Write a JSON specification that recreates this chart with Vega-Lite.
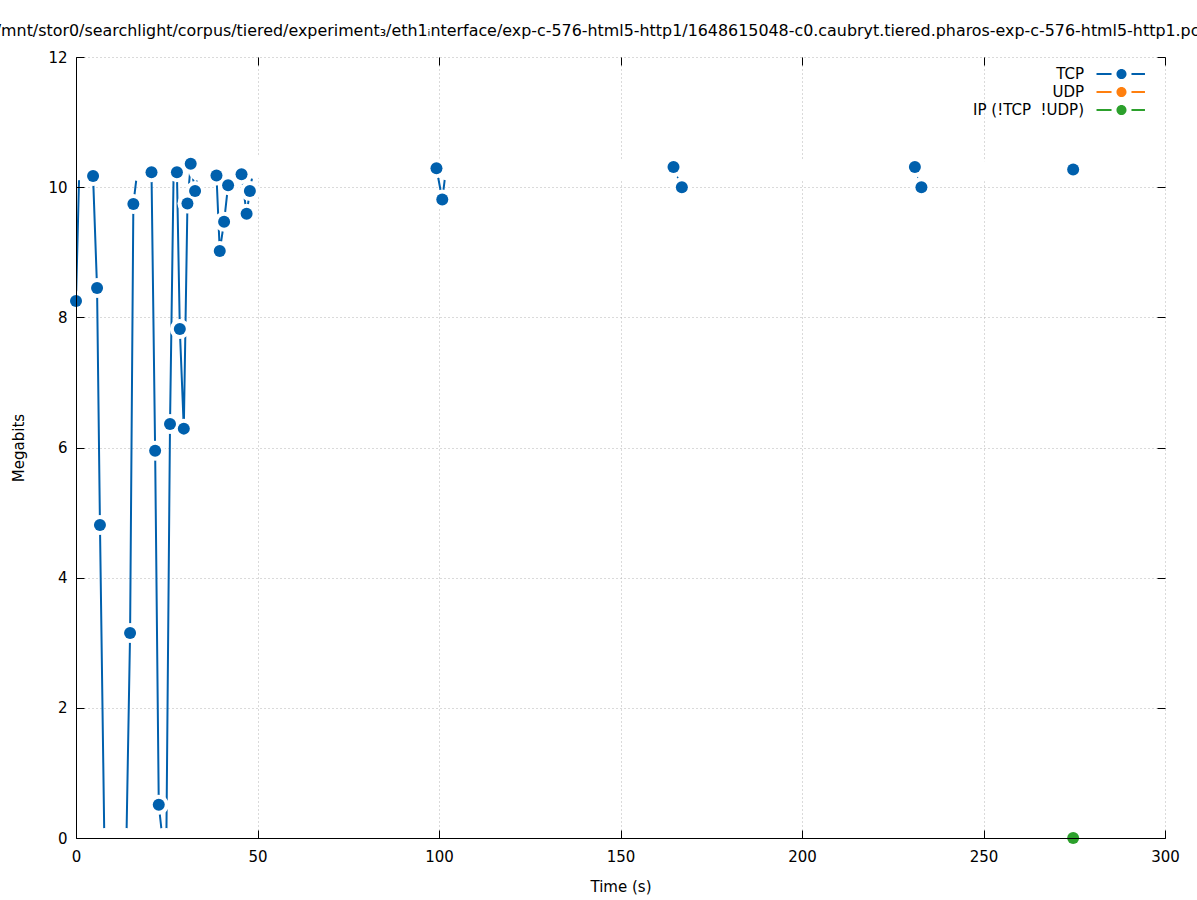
{
"$schema": "https://vega.github.io/schema/vega-lite/v6.json",
"width": 1089, "height": 781,
"autosize": {"type": "none"},
"padding": {"left": 76, "top": 57, "right": 32, "bottom": 62},
"background": "white",
"config": {"font": "DejaVu Sans", "view": {"stroke": null}},
"title": {"text": "/mnt/stor0/searchlight/corpus/tiered/experiment₃/eth1ᵢnterface/exp-c-576-html5-http1/1648615048-c0.caubryt.tiered.pharos-exp-c-576-html5-http1.pcap", "fontSize": 15.9, "fontWeight": "normal", "font": "DejaVu Sans", "color": "black", "anchor": "middle", "dx": -13, "offset": 11, "frame": "group"},
"data": {"values": [
{"series":"TCP","time":0.0,"mbit":8.25},{"series":"TCP","time":0.9,"mbit":10.26},{"series":"TCP","time":1.8,"mbit":10.27},{"series":"TCP","time":2.7,"mbit":10.25},{"series":"TCP","time":3.7,"mbit":10.27},{"series":"TCP","time":4.7,"mbit":10.17},{"series":"TCP","time":5.8,"mbit":8.45},{"series":"TCP","time":6.6,"mbit":4.81},{"series":"TCP","time":7.8,"mbit":0},{"series":"TCP","time":8.8,"mbit":0},{"series":"TCP","time":9.8,"mbit":0},{"series":"TCP","time":10.8,"mbit":0},{"series":"TCP","time":11.8,"mbit":0},{"series":"TCP","time":12.9,"mbit":0},{"series":"TCP","time":13.9,"mbit":0},{"series":"TCP","time":14.9,"mbit":3.15},{"series":"TCP","time":15.8,"mbit":9.74},{"series":"TCP","time":16.9,"mbit":10.25},{"series":"TCP","time":17.9,"mbit":10.27},{"series":"TCP","time":18.9,"mbit":10.25},{"series":"TCP","time":19.8,"mbit":10.26},{"series":"TCP","time":20.8,"mbit":10.23},{"series":"TCP","time":21.8,"mbit":5.95},{"series":"TCP","time":22.8,"mbit":0.51},{"series":"TCP","time":23.8,"mbit":0},{"series":"TCP","time":24.9,"mbit":0},{"series":"TCP","time":25.9,"mbit":6.36},{"series":"TCP","time":26.9,"mbit":10.26},{"series":"TCP","time":27.8,"mbit":10.23},{"series":"TCP","time":28.6,"mbit":7.82},{"series":"TCP","time":29.7,"mbit":6.29},{"series":"TCP","time":30.7,"mbit":9.75},{"series":"TCP","time":31.6,"mbit":10.36},{"series":"TCP","time":32.8,"mbit":9.94},{"series":"TCP","time":33.8,"mbit":10.25},{"series":"TCP","time":34.8,"mbit":10.27},{"series":"TCP","time":35.8,"mbit":10.26},{"series":"TCP","time":36.8,"mbit":10.28},{"series":"TCP","time":37.8,"mbit":10.27},{"series":"TCP","time":38.7,"mbit":10.18},{"series":"TCP","time":39.6,"mbit":9.02},{"series":"TCP","time":40.8,"mbit":9.47},{"series":"TCP","time":41.9,"mbit":10.03},{"series":"TCP","time":42.8,"mbit":10.32},{"series":"TCP","time":43.8,"mbit":10.27},{"series":"TCP","time":44.7,"mbit":10.26},{"series":"TCP","time":45.6,"mbit":10.2},{"series":"TCP","time":47.0,"mbit":9.59},{"series":"TCP","time":47.9,"mbit":9.94},{"series":"TCP","time":48.9,"mbit":10.28},{"series":"TCP","time":49.8,"mbit":10.3},{"series":"TCP","time":50.6,"mbit":10.34},{"series":"TCP","time":51.6,"mbit":10.28},{"series":"TCP","time":52.5,"mbit":10.25},{"series":"TCP","time":53.4,"mbit":10.16},{"series":"TCP","time":54.4,"mbit":10.24},{"series":"TCP","time":55.3,"mbit":10.25},{"series":"TCP","time":56.2,"mbit":10.24},{"series":"TCP","time":57.2,"mbit":10.25},{"series":"TCP","time":58.1,"mbit":10.22},{"series":"TCP","time":59.1,"mbit":10.26},{"series":"TCP","time":60.0,"mbit":10.22},{"series":"TCP","time":60.9,"mbit":10.24},{"series":"TCP","time":61.9,"mbit":10.26},{"series":"TCP","time":62.8,"mbit":10.27},{"series":"TCP","time":63.8,"mbit":10.29},{"series":"TCP","time":64.7,"mbit":10.31},{"series":"TCP","time":65.7,"mbit":10.28},{"series":"TCP","time":66.6,"mbit":10.26},{"series":"TCP","time":67.6,"mbit":10.25},{"series":"TCP","time":68.5,"mbit":10.27},{"series":"TCP","time":69.5,"mbit":10.24},{"series":"TCP","time":70.4,"mbit":10.26},{"series":"TCP","time":71.4,"mbit":10.25},{"series":"TCP","time":72.3,"mbit":10.27},{"series":"TCP","time":73.3,"mbit":10.25},{"series":"TCP","time":74.2,"mbit":10.24},{"series":"TCP","time":75.2,"mbit":10.26},{"series":"TCP","time":76.1,"mbit":10.25},{"series":"TCP","time":77.1,"mbit":10.27},{"series":"TCP","time":78.0,"mbit":10.25},{"series":"TCP","time":79.0,"mbit":10.26},{"series":"TCP","time":79.9,"mbit":10.24},{"series":"TCP","time":80.9,"mbit":10.25},{"series":"TCP","time":81.8,"mbit":10.27},{"series":"TCP","time":82.8,"mbit":10.26},{"series":"TCP","time":83.7,"mbit":10.25},{"series":"TCP","time":84.7,"mbit":10.24},{"series":"TCP","time":85.6,"mbit":10.26},{"series":"TCP","time":86.6,"mbit":10.25},{"series":"TCP","time":87.5,"mbit":10.27},{"series":"TCP","time":88.5,"mbit":10.26},{"series":"TCP","time":89.4,"mbit":10.25},{"series":"TCP","time":90.4,"mbit":10.24},{"series":"TCP","time":91.3,"mbit":10.26},{"series":"TCP","time":92.3,"mbit":10.25},{"series":"TCP","time":93.2,"mbit":10.27},{"series":"TCP","time":94.2,"mbit":10.26},{"series":"TCP","time":95.1,"mbit":10.25},{"series":"TCP","time":96.1,"mbit":10.24},{"series":"TCP","time":97.0,"mbit":10.26},{"series":"TCP","time":98.0,"mbit":10.27},{"series":"TCP","time":99.3,"mbit":10.29},{"series":"TCP","time":100.9,"mbit":9.81},
{"series":"TCP","time":101.9,"mbit":10.26},{"series":"TCP","time":102.9,"mbit":10.25},{"series":"TCP","time":103.9,"mbit":10.27},{"series":"TCP","time":104.9,"mbit":10.3},{"series":"TCP","time":105.9,"mbit":10.27},{"series":"TCP","time":106.9,"mbit":10.25},{"series":"TCP","time":107.9,"mbit":10.26},{"series":"TCP","time":108.9,"mbit":10.24},{"series":"TCP","time":109.9,"mbit":10.25},{"series":"TCP","time":110.9,"mbit":10.27},{"series":"TCP","time":111.9,"mbit":10.25},{"series":"TCP","time":112.9,"mbit":10.26},{"series":"TCP","time":113.9,"mbit":10.24},{"series":"TCP","time":114.9,"mbit":10.25},{"series":"TCP","time":115.9,"mbit":10.26},{"series":"TCP","time":116.9,"mbit":10.27},{"series":"TCP","time":117.9,"mbit":10.25},{"series":"TCP","time":118.9,"mbit":10.24},{"series":"TCP","time":119.9,"mbit":10.26},{"series":"TCP","time":120.9,"mbit":10.25},{"series":"TCP","time":121.9,"mbit":10.27},{"series":"TCP","time":122.9,"mbit":10.26},{"series":"TCP","time":123.9,"mbit":10.25},{"series":"TCP","time":124.9,"mbit":10.24},{"series":"TCP","time":125.9,"mbit":10.26},{"series":"TCP","time":126.9,"mbit":10.25},{"series":"TCP","time":127.9,"mbit":10.27},{"series":"TCP","time":128.9,"mbit":10.26},{"series":"TCP","time":129.9,"mbit":10.25},{"series":"TCP","time":130.9,"mbit":10.24},{"series":"TCP","time":131.9,"mbit":10.26},{"series":"TCP","time":132.9,"mbit":10.25},{"series":"TCP","time":133.9,"mbit":10.27},{"series":"TCP","time":134.9,"mbit":10.26},{"series":"TCP","time":135.9,"mbit":10.25},{"series":"TCP","time":136.9,"mbit":10.24},{"series":"TCP","time":137.9,"mbit":10.26},{"series":"TCP","time":138.9,"mbit":10.25},{"series":"TCP","time":139.9,"mbit":10.27},{"series":"TCP","time":140.9,"mbit":10.26},{"series":"TCP","time":141.9,"mbit":10.25},{"series":"TCP","time":142.9,"mbit":10.24},{"series":"TCP","time":143.9,"mbit":10.26},{"series":"TCP","time":144.9,"mbit":10.25},{"series":"TCP","time":145.9,"mbit":10.27},{"series":"TCP","time":146.9,"mbit":10.26},{"series":"TCP","time":147.9,"mbit":10.25},{"series":"TCP","time":148.9,"mbit":10.24},{"series":"TCP","time":149.9,"mbit":10.26},{"series":"TCP","time":150.9,"mbit":10.25},{"series":"TCP","time":151.9,"mbit":10.27},{"series":"TCP","time":152.9,"mbit":10.26},{"series":"TCP","time":153.9,"mbit":10.25},{"series":"TCP","time":154.9,"mbit":10.24},{"series":"TCP","time":155.9,"mbit":10.26},{"series":"TCP","time":156.9,"mbit":10.25},{"series":"TCP","time":157.9,"mbit":10.27},{"series":"TCP","time":158.9,"mbit":10.26},{"series":"TCP","time":159.9,"mbit":10.25},{"series":"TCP","time":160.9,"mbit":10.24},{"series":"TCP","time":161.9,"mbit":10.26},{"series":"TCP","time":162.9,"mbit":10.25},{"series":"TCP","time":163.7,"mbit":10.27},{"series":"TCP","time":164.6,"mbit":10.31},{"series":"TCP","time":166.9,"mbit":10.0},
{"series":"TCP","time":167.9,"mbit":10.26},{"series":"TCP","time":168.9,"mbit":10.25},{"series":"TCP","time":169.9,"mbit":10.27},{"series":"TCP","time":170.9,"mbit":10.26},{"series":"TCP","time":171.9,"mbit":10.25},{"series":"TCP","time":172.9,"mbit":10.24},{"series":"TCP","time":173.9,"mbit":10.26},{"series":"TCP","time":174.9,"mbit":10.25},{"series":"TCP","time":175.9,"mbit":10.27},{"series":"TCP","time":176.9,"mbit":10.26},{"series":"TCP","time":177.9,"mbit":10.25},{"series":"TCP","time":178.9,"mbit":10.24},{"series":"TCP","time":179.9,"mbit":10.26},{"series":"TCP","time":180.9,"mbit":10.25},{"series":"TCP","time":181.9,"mbit":10.27},{"series":"TCP","time":182.9,"mbit":10.26},{"series":"TCP","time":183.9,"mbit":10.25},{"series":"TCP","time":184.9,"mbit":10.24},{"series":"TCP","time":185.9,"mbit":10.26},{"series":"TCP","time":186.9,"mbit":10.25},{"series":"TCP","time":187.9,"mbit":10.27},{"series":"TCP","time":188.9,"mbit":10.26},{"series":"TCP","time":189.9,"mbit":10.25},{"series":"TCP","time":190.9,"mbit":10.24},{"series":"TCP","time":191.9,"mbit":10.26},{"series":"TCP","time":192.9,"mbit":10.25},{"series":"TCP","time":193.9,"mbit":10.27},{"series":"TCP","time":194.9,"mbit":10.26},{"series":"TCP","time":195.9,"mbit":10.25},{"series":"TCP","time":196.9,"mbit":10.24},{"series":"TCP","time":197.9,"mbit":10.26},{"series":"TCP","time":198.9,"mbit":10.25},{"series":"TCP","time":199.9,"mbit":10.27},{"series":"TCP","time":200.9,"mbit":10.26},{"series":"TCP","time":201.9,"mbit":10.25},{"series":"TCP","time":202.9,"mbit":10.24},{"series":"TCP","time":203.9,"mbit":10.26},{"series":"TCP","time":204.9,"mbit":10.25},{"series":"TCP","time":205.9,"mbit":10.27},{"series":"TCP","time":206.9,"mbit":10.26},{"series":"TCP","time":207.9,"mbit":10.25},{"series":"TCP","time":208.9,"mbit":10.24},{"series":"TCP","time":209.9,"mbit":10.26},{"series":"TCP","time":210.9,"mbit":10.25},{"series":"TCP","time":211.9,"mbit":10.27},{"series":"TCP","time":212.9,"mbit":10.26},{"series":"TCP","time":213.9,"mbit":10.25},{"series":"TCP","time":214.9,"mbit":10.24},{"series":"TCP","time":215.9,"mbit":10.26},{"series":"TCP","time":216.9,"mbit":10.25},{"series":"TCP","time":217.9,"mbit":10.27},{"series":"TCP","time":218.9,"mbit":10.26},{"series":"TCP","time":219.9,"mbit":10.25},{"series":"TCP","time":220.9,"mbit":10.24},{"series":"TCP","time":221.9,"mbit":10.26},{"series":"TCP","time":222.9,"mbit":10.25},{"series":"TCP","time":223.9,"mbit":10.27},{"series":"TCP","time":224.9,"mbit":10.26},{"series":"TCP","time":225.9,"mbit":10.25},{"series":"TCP","time":226.9,"mbit":10.24},{"series":"TCP","time":227.9,"mbit":10.26},{"series":"TCP","time":228.9,"mbit":10.25},{"series":"TCP","time":229.9,"mbit":10.27},{"series":"TCP","time":231.1,"mbit":10.31},{"series":"TCP","time":232.9,"mbit":10.0},
{"series":"TCP","time":233.9,"mbit":10.26},{"series":"TCP","time":234.9,"mbit":10.25},{"series":"TCP","time":235.9,"mbit":10.27},{"series":"TCP","time":236.9,"mbit":10.26},{"series":"TCP","time":237.9,"mbit":10.25},{"series":"TCP","time":238.9,"mbit":10.24},{"series":"TCP","time":239.9,"mbit":10.26},{"series":"TCP","time":240.9,"mbit":10.25},{"series":"TCP","time":241.9,"mbit":10.27},{"series":"TCP","time":242.9,"mbit":10.26},{"series":"TCP","time":243.9,"mbit":10.25},{"series":"TCP","time":244.9,"mbit":10.24},{"series":"TCP","time":245.9,"mbit":10.26},{"series":"TCP","time":246.9,"mbit":10.25},{"series":"TCP","time":247.9,"mbit":10.27},{"series":"TCP","time":248.9,"mbit":10.26},{"series":"TCP","time":249.9,"mbit":10.25},{"series":"TCP","time":250.9,"mbit":10.24},{"series":"TCP","time":251.9,"mbit":10.26},{"series":"TCP","time":252.9,"mbit":10.25},{"series":"TCP","time":253.9,"mbit":10.27},{"series":"TCP","time":254.9,"mbit":10.26},{"series":"TCP","time":255.9,"mbit":10.25},{"series":"TCP","time":256.9,"mbit":10.24},{"series":"TCP","time":257.9,"mbit":10.26},{"series":"TCP","time":258.9,"mbit":10.25},{"series":"TCP","time":259.9,"mbit":10.27},{"series":"TCP","time":260.9,"mbit":10.26},{"series":"TCP","time":261.9,"mbit":10.25},{"series":"TCP","time":262.9,"mbit":10.24},{"series":"TCP","time":263.9,"mbit":10.26},{"series":"TCP","time":264.9,"mbit":10.25},{"series":"TCP","time":265.9,"mbit":10.27},{"series":"TCP","time":266.9,"mbit":10.26},{"series":"TCP","time":267.9,"mbit":10.25},{"series":"TCP","time":268.9,"mbit":10.24},{"series":"TCP","time":269.9,"mbit":10.26},{"series":"TCP","time":270.9,"mbit":10.25},{"series":"TCP","time":271.9,"mbit":10.27},{"series":"TCP","time":272.9,"mbit":10.26},{"series":"TCP","time":273.9,"mbit":10.25},{"series":"TCP","time":274.7,"mbit":10.27},
{"series":"IP (!TCP \u00a0!UDP)","time":274.7,"mbit":0}
]},
"resolve": {"axis": {"x": "independent", "y": "independent"}},
"layer": [
{
 "transform": [{"filter": "datum.series === 'TCP'"}],
 "mark": {"type": "line", "color": "#0060ad", "strokeWidth": 2, "clip": true},
 "encoding": {
  "x": {"field": "time", "type": "quantitative", "scale": {"domain": [0, 300], "nice": false, "zero": false},
        "axis": {"orient": "bottom", "values": [0,50,100,150,200,250,300], "grid": true, "gridColor": "#b4b4b4", "gridDash": [1,3], "gridWidth": 1, "domain": false, "ticks": false, "labels": false, "title": null, "zindex": 0}},
  "y": {"field": "mbit", "type": "quantitative", "scale": {"domain": [0, 12], "nice": false},
        "axis": {"orient": "left", "values": [0,2,4,6,8,10,12], "grid": true, "gridColor": "#b4b4b4", "gridDash": [1,3], "gridWidth": 1, "domain": false, "ticks": false, "labels": false, "title": null, "zindex": 0}}
 }
},
{
 "transform": [{"filter": "datum.series === 'TCP'"}],
 "mark": {"type": "point", "shape": "circle", "filled": true, "fill": "white", "strokeWidth": 0, "size": 400, "opacity": 1, "clip": true},
 "encoding": {
  "x": {"field": "time", "type": "quantitative",
        "axis": {"orient": "bottom", "values": [0,50,100,150,200,250,300], "grid": false, "domain": true, "domainColor": "black", "domainWidth": 1, "ticks": true, "tickSize": -8, "tickColor": "black", "tickWidth": 1, "labels": true, "labelFontSize": 15, "labelColor": "black", "labelPadding": 19, "labelFlush": false, "labelOverlap": false, "title": "Time (s)", "titleFontSize": 15, "titleFontWeight": "normal", "titleColor": "black", "titleX": 544.5, "titleY": 48, "titleBaseline": "middle", "titleAlign": "center", "zindex": 1}},
  "y": {"field": "mbit", "type": "quantitative",
        "axis": {"orient": "left", "values": [0,2,4,6,8,10,12], "grid": false, "domain": true, "domainColor": "black", "domainWidth": 1, "ticks": true, "tickSize": -8, "tickColor": "black", "tickWidth": 1, "labels": true, "labelFontSize": 15, "labelColor": "black", "labelPadding": 17, "labelFlush": false, "labelOverlap": false, "title": "Megabits", "titleFontSize": 15, "titleFontWeight": "normal", "titleColor": "black", "titleX": -58, "titleY": 390.5, "titleAngle": -90, "titleBaseline": "middle", "titleAlign": "center", "zindex": 1}}
 }
},
{
 "transform": [
  {"filter": "datum.series === 'TCP'"},
  {"window": [{"op": "lead", "field": "mbit", "as": "nm"}], "sort": [{"field": "time", "order": "ascending"}]},
  {"filter": "datum.mbit > 0 && (datum.nm == null || abs(datum.nm - datum.mbit) > 0.2)"}
 ],
 "mark": {"type": "point", "shape": "circle", "filled": true, "size": 144, "opacity": 1},
 "encoding": {
  "x": {"field": "time", "type": "quantitative",
        "axis": {"orient": "top", "values": [0,50,100,150,200,250,300], "grid": false, "domain": false, "ticks": true, "tickSize": -8, "tickColor": "black", "labels": false, "title": null, "zindex": 1}},
  "y": {"field": "mbit", "type": "quantitative",
        "axis": {"orient": "right", "values": [0,2,4,6,8,10,12], "grid": false, "domain": false, "ticks": true, "tickSize": -8, "tickColor": "black", "labels": false, "title": null, "zindex": 1}},
  "color": {"field": "series", "type": "nominal",
            "scale": {"domain": ["TCP", "UDP", "IP (!TCP \u00a0!UDP)"], "range": ["#0060ad", "#ff7f0e", "#2ca02c"]},
            "legend": {"orient": "none", "legendX": 1036, "legendY": 7.5, "title": null, "labelFontSize": 15, "labelColor": "black", "labelAlign": "right", "labelOffset": -47, "symbolType": "M-2.63,-0.105H-1.05V0.105H-2.63Z M1.05,-0.105H2.47V0.105H1.05Z M-0.53,0A0.53,0.53 0 1,1 0.53,0A0.53,0.53 0 1,1 -0.53,0Z", "symbolSize": 361, "symbolStrokeWidth": 0, "rowPadding": 0,
                       "encode": {"symbols": {"update": {"size": {"value": 361}, "fill": {"signal": "scale('color', datum.value)"}, "strokeWidth": {"value": 0}, "opacity": {"value": 1}}}}}}
 }
},
{
 "transform": [{"filter": "datum.series !== 'TCP'"}],
 "mark": {"type": "point", "shape": "circle", "filled": true, "size": 144, "opacity": 1},
 "encoding": {
  "x": {"field": "time", "type": "quantitative", "axis": null},
  "y": {"field": "mbit", "type": "quantitative", "axis": null},
  "color": {"field": "series", "type": "nominal", "legend": null}
 }
}
]
}
